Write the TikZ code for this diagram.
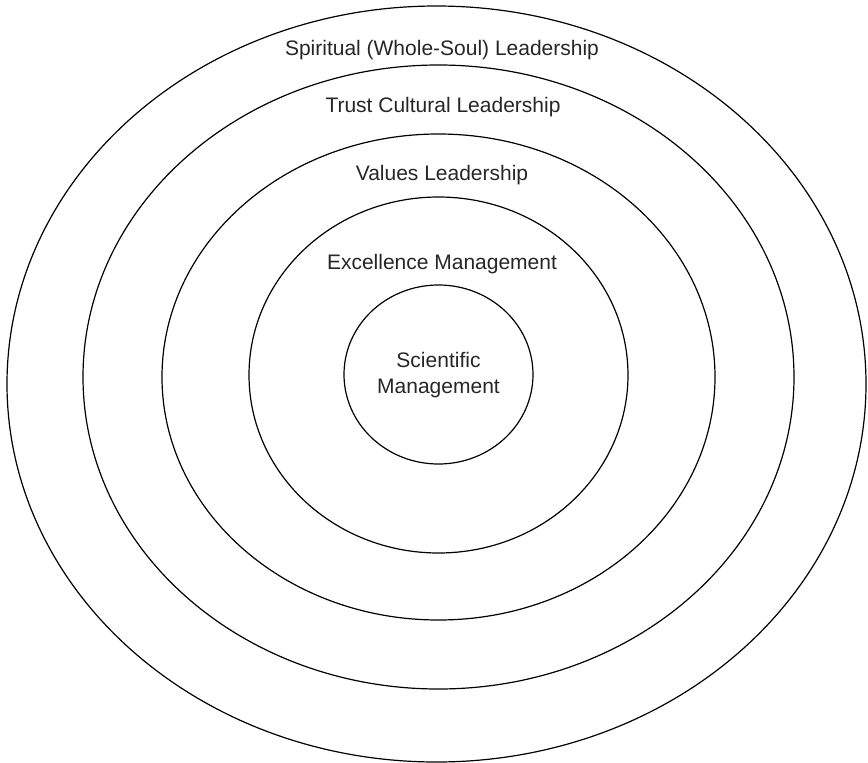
\documentclass[tikz,border=0pt]{standalone}
\usepackage{fontspec}
\setmainfont{Liberation Sans}
\usepackage{xcolor}
\usetikzlibrary{positioning}

\begin{document}
\begin{tikzpicture}[
  x=1pt, y=-1pt,
  ring/.style={draw, line width=1.2pt},
  lbl/.style={align=center, font=\fontsize{21}{25.5}\selectfont, text=black!85, inner sep=0pt}
]
\useasboundingbox (0,0) rectangle (868,763);

% Nested rings, outermost first
\draw[ring] (436.5,384) ellipse [x radius=429.5, y radius=378];
\draw[ring] (438.5,377) ellipse [x radius=355.5, y radius=312];
\draw[ring] (438.5,377) ellipse [x radius=276.5, y radius=243];
\draw[ring] (438.5,375) ellipse [x radius=189.5, y radius=178];
\draw[ring] (438.5,374.5) ellipse [x radius=94.5, y radius=89.5];

% Ring labels
\node[lbl] (spiritual) at (442,50) {Spiritual (Whole-Soul) Leadership};
\node[lbl] (trust) at (443,107) {Trust Cultural Leadership};
\node[lbl] (values) at (442,175) {Values Leadership};
\node[lbl] (excellence) at (442,264) {Excellence Management};
\node[lbl] (scientific) at (438.5,375) {Scientific\\Management};
\end{tikzpicture}
\end{document}
